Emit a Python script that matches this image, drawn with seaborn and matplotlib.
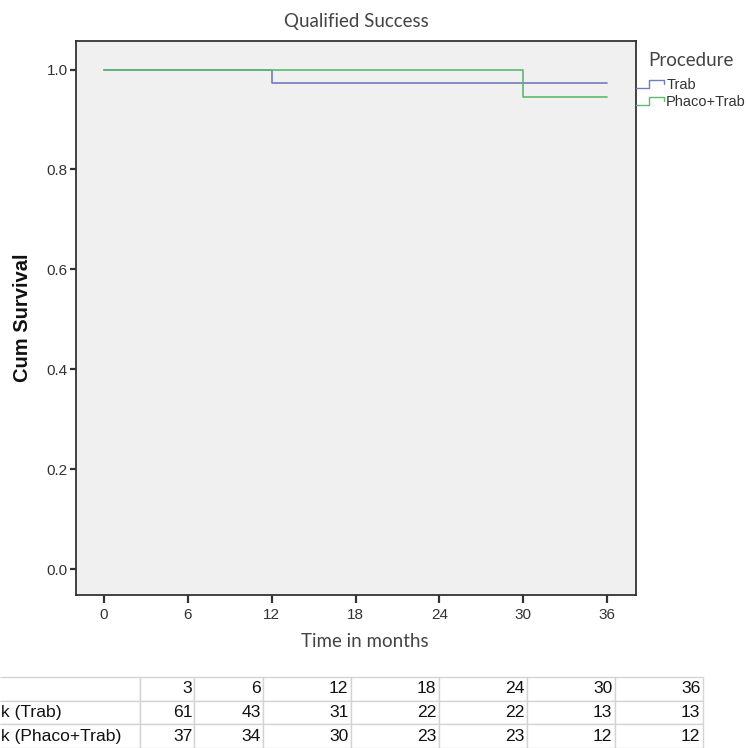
"""
Kaplan-Meier style plot: Qualified Success by procedure, with number-at-risk table.
"""

import matplotlib
matplotlib.use("Agg")
import matplotlib.pyplot as plt
import numpy as np
import pandas as pd
import seaborn as sns
from matplotlib import font_manager
from matplotlib.legend_handler import HandlerBase
from matplotlib.lines import Line2D

# ── Data ─────────────────────────────────────────────────────────────────────

PROCEDURES = ["Trab", "Phaco+Trab"]

TIME_TRAB = [0, 12, 36]
SURV_TRAB = [1.0, 0.973, 0.973]

TIME_PHACO = [0, 30, 36]
SURV_PHACO = [1.0, 0.945, 0.945]

X_TICKS = [0, 6, 12, 18, 24, 30, 36]
Y_TICKS = [0.0, 0.2, 0.4, 0.6, 0.8, 1.0]

RISK_TIMES = [3, 6, 12, 18, 24, 30, 36]
RISK_LABELS = ["k (Trab)", "k (Phaco+Trab)"]
RISK_TRAB = [61, 43, 31, 22, 22, 13, 13]
RISK_PHACO = [37, 34, 30, 23, 23, 12, 12]

COLORS = {"Trab": "#6f7dbd", "Phaco+Trab": "#5cb874"}

# ── Style ────────────────────────────────────────────────────────────────────

sns.set_theme(style="ticks")
plt.rcParams["font.family"] = ["Liberation Sans", "DejaVu Sans"]

installed = {f.name for f in font_manager.fontManager.ttflist}
if "Liberation Sans Narrow" in installed:
    TABLE_FONT, TABLE_SIZE = "Liberation Sans Narrow", 14.5
else:
    TABLE_FONT, TABLE_SIZE = "Liberation Sans", 12.6

HEAD_FONT = ["Lato", "Liberation Sans", "DejaVu Sans"]
DARK = "#333333"


class StepHandler(HandlerBase):
    """Legend key drawn as a small step line, like SPSS survival plots."""

    def create_artists(self, legend, orig_handle, xdescent, ydescent,
                       width, height, fontsize, trans):
        x0, y0 = -xdescent, -ydescent
        xs = [x0, x0 + 0.45 * width, x0 + 0.45 * width, x0 + width, x0 + width]
        ys = [y0 + 0.1 * height, y0 + 0.1 * height, y0 + 0.85 * height,
              y0 + 0.85 * height, y0 + 0.5 * height]
        return [Line2D(xs, ys, color=orig_handle.get_color(), lw=1.0, transform=trans)]


# ── Build figure ─────────────────────────────────────────────────────────────

df = pd.concat([
    pd.DataFrame({"time": TIME_TRAB, "surv": SURV_TRAB, "Procedure": "Trab"}),
    pd.DataFrame({"time": TIME_PHACO, "surv": SURV_PHACO, "Procedure": "Phaco+Trab"}),
], ignore_index=True)

fig = plt.figure(figsize=(7.46, 7.48), dpi=100)
ax = fig.add_axes([0.102, 0.2045, 0.751, 0.7406])
ax.set_facecolor("#f0f0f0")

sns.lineplot(data=df, x="time", y="surv", hue="Procedure", hue_order=PROCEDURES,
             palette=COLORS, estimator=None, drawstyle="steps-post",
             linewidth=1.2, ax=ax)

ax.set_xlim(-2.0, 38.1)
ax.set_ylim(-0.052, 1.057)
ax.set_xticks(X_TICKS)
ax.set_yticks(Y_TICKS)
ax.set_yticklabels([f"{v:.1f}" for v in Y_TICKS])

for s in ax.spines.values():
    s.set_visible(True)
    s.set_color(DARK)
    s.set_linewidth(1.3)

ax.tick_params(axis="both", colors=DARK, labelsize=11, width=1.6)
ax.tick_params(axis="x", length=5.5, pad=4)
ax.tick_params(axis="y", length=4.5, pad=1.5)

ax.set_ylabel("Cum Survival", fontsize=14.5, fontweight="bold", color="#111111")
ax.yaxis.set_label_coords(-0.078, 0.5)
ax.set_xlabel("Time in months", fontsize=13.5, family=HEAD_FONT, color="#444444")
ax.xaxis.set_label_coords(0.516, -0.068)
ax.set_title("Qualified Success", fontsize=13.5, family=HEAD_FONT, color="#444444", pad=10)

# Legend with step-shaped keys; title placed separately above it
handles, labels = ax.get_legend_handles_labels()
ax.get_legend().remove()
leg = fig.legend(handles, labels, loc="upper left",
                 bbox_to_anchor=(0.853, 1 - 78 / 748), bbox_transform=fig.transFigure,
                 frameon=False, borderpad=0, borderaxespad=0,
                 handlelength=1.9, handletextpad=0.15, labelspacing=0.2,
                 prop={"size": 10.5}, handler_map={Line2D: StepHandler()})
for t in leg.get_texts():
    t.set_color(DARK)
fig.text(691 / 746, 1 - 60 / 748, "Procedure", ha="center", va="center",
         fontsize=13.5, family=HEAD_FONT, color="#444444")

# ── Number-at-risk table ─────────────────────────────────────────────────────

col_px = [140, 54, 69, 88, 88, 88, 88, 88]
col_w = [c / sum(col_px) for c in col_px]
cells = [[""] + [str(t) for t in RISK_TIMES],
         [RISK_LABELS[0]] + [str(v) for v in RISK_TRAB],
         [RISK_LABELS[1]] + [str(v) for v in RISK_PHACO]]

tax = fig.add_axes([0, 0, sum(col_px) / 746, 71 / 748])
tax.axis("off")
table = tax.table(cellText=cells, colWidths=col_w, cellLoc="right",
                  bbox=[0, 0, 1, 1])
table.auto_set_font_size(False)
for (r, c), cell in table.get_celld().items():
    cell.set_edgecolor("#d4d4d4")
    cell.set_linewidth(1.0)
    cell.set_facecolor("white")
    cell.PAD = 0.03
    txt = cell.get_text()
    txt.set_fontfamily(TABLE_FONT)
    txt.set_fontsize(TABLE_SIZE)
    txt.set_color("#111111")
    if c == 0:
        cell.visible_edges = "TBR"
        cell.PAD = 0.01
        txt.set_horizontalalignment("left")

fig.savefig("out.png", dpi=100, facecolor="white")
